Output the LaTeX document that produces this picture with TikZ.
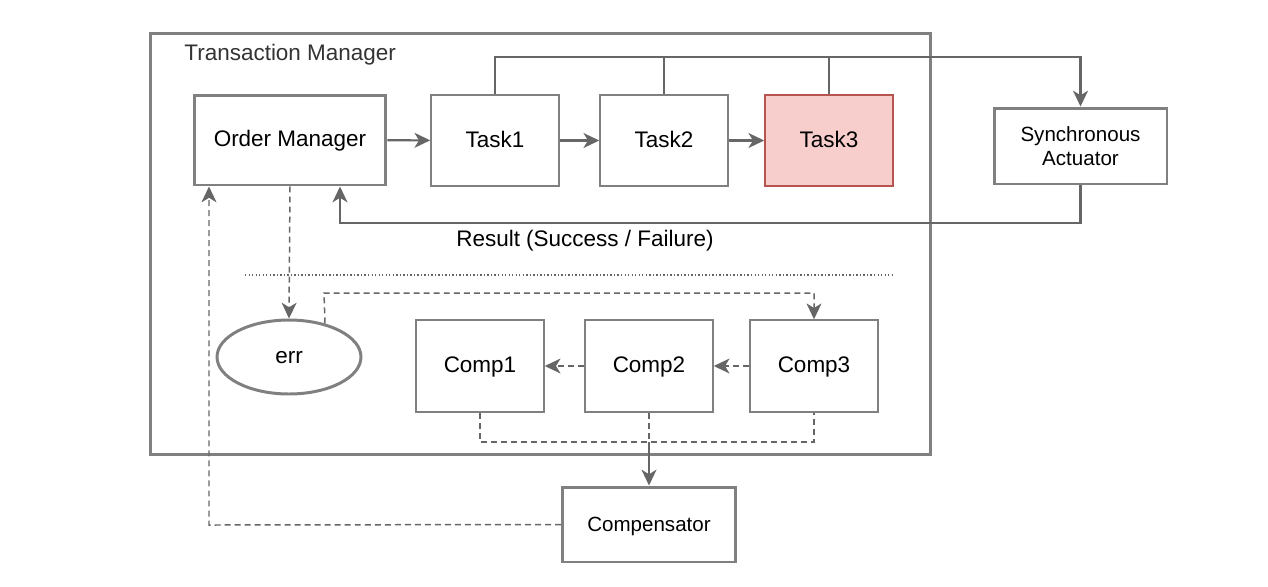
\documentclass[tikz,border=0pt]{standalone}
\usepackage{fontspec}
\setmainfont{Liberation Sans}
\usepackage{tikz}
\usetikzlibrary{
	arrows.meta,
	calc,
	positioning,
	shapes.geometric
}
\definecolor{LineGray}{RGB}{102,102,102}
\definecolor{BoxGray}{RGB}{128,128,128}
\definecolor{TextGray}{RGB}{51,51,51}
\definecolor{FailFill}{RGB}{248,206,204}
\definecolor{FailDraw}{RGB}{184,84,80}

\begin{document}
\begin{tikzpicture}[x=0.02cm,y=-0.02cm,
		every node/.style={font=\fontsize{12.8}{15}\selectfont},
		oneline/.style={text height=0.74em,text depth=0pt},
		box/.style={oneline,draw=BoxGray,line width=0.85pt,minimum width=2.56cm,minimum height=1.82cm,inner sep=0pt},
		bigbox/.style={draw=BoxGray,line width=1.7pt,inner sep=0pt,align=center},
		small/.style={font=\fontsize{11.7}{13.5}\selectfont},
		conn/.style={draw=LineGray,line width=1.2pt},
		arr/.style={conn,-{Stealth[length=9pt,width=8.5pt,inset=2.6pt]}},
		dashline/.style={draw=LineGray,line width=0.85pt,dash pattern=on 3.4pt off 2.3pt},
		dasharr/.style={dashline,-{Stealth[length=9pt,width=8.5pt,inset=2.6pt]}}
	]
	\useasboundingbox (0,0) rectangle (1268,586);
	
	% transaction manager frame
	\node[draw=BoxGray,line width=1.7pt,minimum width=15.62cm,minimum height=8.44cm,inner sep=0pt] (tm) at (540.5,244) {};
	\node[oneline,anchor=west,text=TextGray,inner sep=0pt] (tmlabel) at (184,54) {Transaction Manager};
	
	\node[bigbox,oneline,minimum width=3.84cm,minimum height=1.8cm] (om) at (290,140) {Order Manager};
	\node[box] (t1) at (495,140.5) {Task1};
	\node[box] (t2) at (664,140.5) {Task2};
	\node[box,draw=FailDraw,fill=FailFill] (t3) at (829,140.5) {Task3};
	\node[bigbox,small,minimum width=3.46cm,minimum height=1.52cm] (sa) at (1080.5,146) {Synchronous\\Actuator};
	
	\node[ellipse,oneline,draw=BoxGray,line width=1.7pt,minimum width=2.88cm,minimum height=1.48cm,inner sep=0pt] (err) at (289,357) {err};
	\node[box,minimum height=1.84cm] (c1) at (480,366) {Comp1};
	\node[box,minimum height=1.84cm] (c2) at (649,366) {Comp2};
	\node[box,minimum height=1.84cm] (c3) at (814,366) {Comp3};
	\node[bigbox,small,oneline,minimum width=3.46cm,minimum height=1.5cm] (comp) at (649,524.5) {Compensator};
	
	\coordinate (bus) at (1080.5,57);
	\coordinate (res) at (340,223);
	\coordinate (errtop) at (324,293);
	\coordinate (cb) at (649,442);
	\coordinate (back) at (209,525);
	
	% task chain
	\draw[arr] (om) -- (t1);
	\draw[arr] (t1) -- (t2);
	\draw[arr] (t2) -- (t3);
	\draw[arr] (t1.north) |- (bus) -- (sa.north);
	\draw[conn] (t2.north) -- (t2.north |- bus);
	\draw[conn] (t3.north) -- (t3.north |- bus);
	\draw[arr] (sa.south) |- (res) -- (res |- om.south);
	\node[oneline,inner sep=0pt] (reslabel) at (585,240) {Result (Success / Failure)};
	
	\draw[draw=LineGray,line width=0.8pt,dash pattern=on 0.8pt off 1.2pt] (245,275) -- (895,275);
	
	% compensation
	\draw[dasharr] (om.south) -- (err.north);
	\draw[dasharr] (err.43) -- (errtop) -| (c3.north);
	\draw[dasharr] (c3) -- (c2);
	\draw[dasharr] (c2) -- (c1);
	\draw[dashline] (c1.south) |- (cb) -| (c3.south);
	\draw[dashline] (c2.south) -- (cb);
	\draw[arr] (cb) -- (comp.north);
	\draw[dasharr] (comp.west) -- (back) -- (back |- om.south);
\end{tikzpicture}
\end{document}
